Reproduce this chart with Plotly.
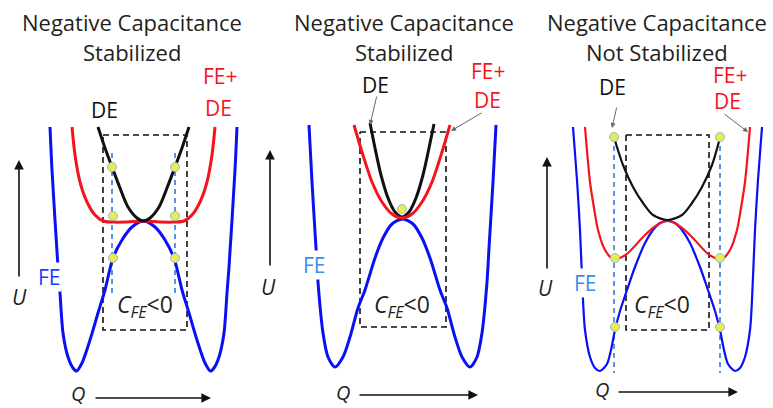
import plotly.graph_objects as go

# ---------------- data (screen units: Q to the right, U downward) -------------
# Panel 1 : Negative Capacitance Stabilized (flat FE+DE)
p1_fe_q = [50, 52, 58, 60, 63, 68, 73, 76.5, 82, 90, 98, 105, 113, 122, 132, 143.5, 155, 165, 174, 182, 189, 197, 205, 210.5, 214, 219, 224, 227, 229, 235, 237]
p1_fe_u = [127, 170, 267, 293, 333, 357, 368, 371, 363, 340, 313, 290, 258, 240, 227, 221, 227, 240, 258, 290, 313, 340, 363, 371, 368, 357, 333, 293, 267, 170, 127]
p1_sum_q = [72, 75, 80, 87, 95, 103, 112, 127, 143.5, 160, 175, 184, 192, 200, 207, 212, 215]
p1_sum_u = [127, 155, 182, 202, 215, 221, 222, 222, 221, 222, 222, 221, 215, 202, 182, 155, 127]
p1_de_q = [98, 105, 112, 120, 128, 137, 143.5, 150, 159, 167, 175, 182, 189]
p1_de_u = [127, 148, 167, 188, 207, 218, 221, 218, 207, 188, 167, 148, 127]
p1_dot_q = [112, 175, 113, 175, 113, 175]
p1_dot_u = [167, 167, 216, 216, 258, 258]
p1_vline_q = [112, 175]
p1_vline_u = [153, 293]
p1_box_q = [103, 187]
p1_box_u = [135, 330]

# Panel 2 : Negative Capacitance Stabilized (single minimum)
p2_fe_q = [309, 312, 316, 318, 323, 328, 335, 343, 350, 358, 365, 375, 383, 392, 402.5, 413, 422, 430, 440, 447, 455, 462, 470, 477, 482, 487, 489, 493, 496]
p2_fe_u = [125, 182, 248, 282, 333, 357, 367, 357, 337, 308, 290, 258, 238, 224, 219, 224, 238, 258, 290, 308, 337, 357, 367, 357, 333, 282, 248, 182, 125]
p2_sum_q = [354, 362, 372, 382, 392, 402, 412, 422, 432, 442, 450]
p2_sum_u = [125, 152, 182, 202, 214, 218, 214, 202, 182, 152, 125]
p2_de_q = [370, 375, 381, 388, 395, 402, 409, 416, 423, 429, 434]
p2_de_u = [123, 148, 175, 198, 212, 217, 212, 198, 175, 148, 124]
p2_dot_q = [402]
p2_dot_u = [209]
p2_box_q = [360, 446]
p2_box_u = [132, 327]

# Panel 3 : Negative Capacitance Not Stabilized (double minimum)
p3_fe_q = [573, 577, 580, 583, 585, 590, 595, 600, 607, 611, 615, 620, 627, 635, 645, 653, 660, 667.5, 675, 682, 690, 700, 708, 715, 720, 724, 728, 735, 740, 745, 750, 752, 755, 758, 762]
p3_fe_u = [127, 180, 230, 300, 330, 357, 368, 371, 364, 350, 330, 311, 290, 267, 243, 230, 223, 221, 223, 230, 243, 267, 290, 311, 330, 350, 364, 371, 368, 357, 330, 300, 230, 180, 127]
p3_sum_q = [585, 590, 594, 598, 605, 613, 620, 628, 645, 657, 667.5, 678, 690, 707, 715, 722, 730, 737, 741, 745, 750]
p3_sum_u = [127, 182, 208, 230, 250, 259, 258, 253, 235, 225, 221, 225, 235, 253, 258, 259, 250, 230, 208, 182, 127]
p3_de_q = [613, 623, 633, 643, 653, 667.5, 682, 692, 702, 712, 721]
p3_de_u = [134, 165, 187, 203, 215, 220, 215, 203, 187, 165, 134]
p3_dot_q = [614, 720, 615, 720, 615, 720]
p3_dot_u = [137, 137, 258, 258, 327, 327]
p3_vline_q = [614, 720]
p3_vline_u = [137, 373]
p3_box_q = [626, 709]
p3_box_u = [135, 330]

titles_line1 = ["Negative Capacitance", "Negative Capacitance", "Negative Capacitance"]
titles_line2 = ["Stabilized", "Stabilized", "Not Stabilized"]
title_q = [132, 404, 657]

# ---------------- styling ----------------
BLUE = "#0a10f5"
RED = "#f5141e"
BLACK = "#111111"
DOT = "#e4ee52"
VDASH = "#2f78e6"
TXT = "#231f20"
FONT = "Open Sans"

fig = go.Figure()


def curve(q, u, color, width):
    fig.add_trace(go.Scatter(x=q, y=u, mode="lines", line=dict(color=color, width=width, shape="spline", smoothing=0.8),
                             hoverinfo="skip", showlegend=False))


def box(bq, bu):
    fig.add_trace(go.Scatter(x=[bq[0], bq[1], bq[1], bq[0], bq[0]], y=[bu[0], bu[0], bu[1], bu[1], bu[0]],
                             mode="lines", line=dict(color=BLACK, width=1.6, dash="6px,4px"),
                             hoverinfo="skip", showlegend=False))


def vlines(vq, vu):
    for q in vq:
        fig.add_trace(go.Scatter(x=[q, q], y=vu, mode="lines", line=dict(color=VDASH, width=1.6, dash="5px,4px"),
                                 hoverinfo="skip", showlegend=False))


def dots(q, u):
    fig.add_trace(go.Scatter(x=q, y=u, mode="markers",
                             marker=dict(color=DOT, size=9, line=dict(color="#9fb3d6", width=1)),
                             hoverinfo="skip", showlegend=False))


# panel 1
box(p1_box_q, p1_box_u)
vlines(p1_vline_q, p1_vline_u)
curve(p1_fe_q, p1_fe_u, BLUE, 3)
curve(p1_sum_q, p1_sum_u, RED, 3)
curve(p1_de_q, p1_de_u, BLACK, 3)
dots(p1_dot_q, p1_dot_u)

# panel 2
box(p2_box_q, p2_box_u)
curve(p2_fe_q, p2_fe_u, BLUE, 3)
curve(p2_de_q, p2_de_u, BLACK, 3)
curve(p2_sum_q, p2_sum_u, RED, 3)
dots(p2_dot_q, p2_dot_u)

# panel 3
box(p3_box_q, p3_box_u)
vlines(p3_vline_q, p3_vline_u)
curve(p3_fe_q, p3_fe_u, BLUE, 2.2)
curve(p3_sum_q, p3_sum_u, RED, 2.2)
curve(p3_de_q, p3_de_u, BLACK, 2.2)
dots(p3_dot_q, p3_dot_u)

ann = []


def text(x, y, s, color=TXT, size=21, bg=None):
    d = dict(x=x, y=y, xref="x", yref="y", text=s, showarrow=False,
             font=dict(family=FONT, size=size, color=color), xanchor="center", yanchor="middle")
    if bg:
        d["bgcolor"] = bg
        d["borderpad"] = 0
    ann.append(d)


def arrow(x0, y0, x1, y1, color=BLACK, width=1.6, head=2, hs=1.2):
    ann.append(dict(x=x1, y=y1, ax=x0, ay=y0, xref="x", yref="y", axref="x", ayref="y", text="",
                    showarrow=True, arrowhead=head, arrowsize=hs, arrowwidth=width, arrowcolor=color, standoff=0,
                    startstandoff=0))


for i in range(3):
    text(title_q[i], 22, titles_line1[i], size=22)
    text(title_q[i], 52, titles_line2[i], size=22)

# panel 1 labels
text(104, 110, "DE", BLACK)
text(220, 76, "FE+", RED)
text(218, 108, "DE", RED)
text(49, 277, "FE", "#1f3cff", bg="white")
text(19, 297, "<i>U</i>")
arrow(19, 278, 19, 160)
text(78, 393, "<i>Q</i>", size=20)
arrow(94, 398, 211, 398)
text(145, 305, "<i>C</i><sub><i>FE</i></sub>&lt;0", size=23)

# panel 2 labels
text(375, 85, "DE", BLACK)
text(488, 71, "FE+", RED)
text(487, 100, "DE", RED)
text(314, 265, "FE", "#3a8eea", bg="white")
text(268, 287, "<i>U</i>")
arrow(270, 267, 270, 150)
text(343, 392, "<i>Q</i>", size=20)
arrow(358, 395, 478, 395)
text(402, 305, "<i>C</i><sub><i>FE</i></sub>&lt;0", size=23)
arrow(377, 95, 370, 125, color="#666666", width=1, head=2, hs=1)
arrow(483, 112, 451, 131, color="#666666", width=1, head=2, hs=1)

# panel 3 labels
text(612, 87, "DE", BLACK)
text(730, 75, "FE+", RED)
text(727, 101, "DE", RED)
text(585, 283, "FE", "#3a8eea", bg="white")
text(545, 288, "<i>U</i>")
arrow(547, 270, 547, 157)
text(602, 389, "<i>Q</i>", size=20)
arrow(617, 392, 738, 392)
text(662, 305, "<i>C</i><sub><i>FE</i></sub>&lt;0", size=23)
arrow(617, 106, 612, 128, color="#666666", width=1, head=2, hs=1)
arrow(723, 113, 748, 132, color="#666666", width=1, head=2, hs=1)

fig.update_layout(
    width=773, height=408, margin=dict(l=0, r=0, t=0, b=0),
    paper_bgcolor="white", plot_bgcolor="white",
    xaxis=dict(range=[0, 773], visible=False, fixedrange=True),
    yaxis=dict(range=[408, 0], visible=False, fixedrange=True),
    annotations=ann, showlegend=False,
)

fig.write_html("out.html")
